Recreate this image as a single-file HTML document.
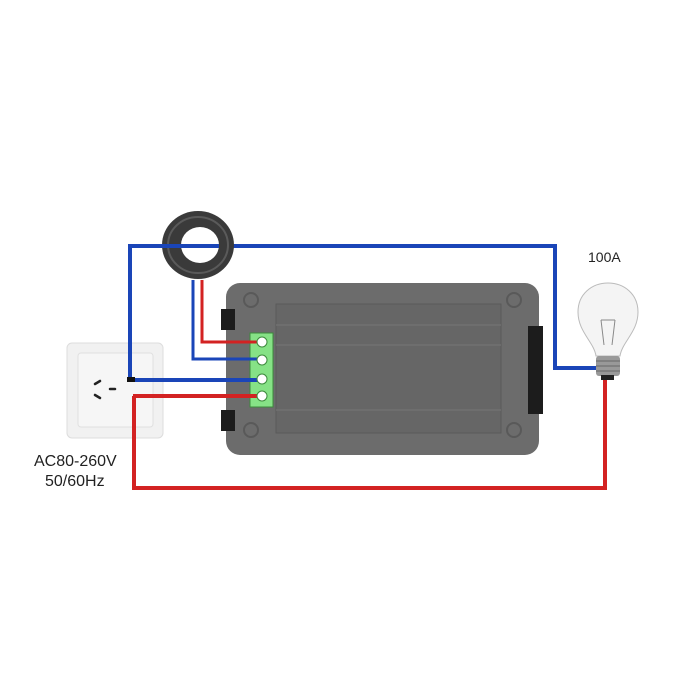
<!DOCTYPE html>
<html><head><style>body{margin:0;background:#fff}svg{display:block}</style></head>
<body>
<svg width="700" height="700" viewBox="0 0 700 700" xmlns="http://www.w3.org/2000/svg" font-family="Liberation Sans, sans-serif">
<rect width="700" height="700" fill="#fff"/>
<!-- socket -->
<rect x="67" y="343" width="96" height="95" rx="5" fill="#f1f1f1" stroke="#ddd"/>
<rect x="78" y="353" width="75" height="74" rx="3" fill="#f6f6f6" stroke="#e0e0e0"/>
<g stroke="#222" stroke-width="2.5" stroke-linecap="round">
<line x1="95" y1="384" x2="100" y2="381"/><line x1="95" y1="395" x2="100" y2="398"/><line x1="110" y1="389" x2="115" y2="389"/>
</g>
<!-- meter -->
<rect x="226" y="283" width="313" height="172" rx="14" fill="#6c6c6c"/>
<rect x="276" y="304" width="225" height="129" fill="#666" stroke="#5a5a5a"/>
<g stroke="#777" stroke-width="1"><line x1="276" y1="325" x2="501" y2="325"/><line x1="276" y1="345" x2="501" y2="345"/><line x1="276" y1="410" x2="501" y2="410"/></g>
<g fill="none" stroke="#595959" stroke-width="2"><circle cx="251" cy="300" r="7"/><circle cx="514" cy="300" r="7"/><circle cx="251" cy="430" r="7"/><circle cx="514" cy="430" r="7"/></g>
<rect x="221" y="309" width="14" height="21" fill="#1c1c1c"/>
<rect x="221" y="410" width="14" height="21" fill="#1c1c1c"/>
<rect x="528" y="326" width="15" height="88" fill="#1c1c1c"/>
<rect x="250" y="333" width="23" height="74" fill="#86e286" stroke="#3c8a3c"/>
<!-- wires -->
<g fill="none" stroke-width="4" stroke-linejoin="miter">
<polyline points="130,380 130,246 555,246 555,368 596,368" stroke="#1a45b8"/>
<polyline points="130,380 262,380" stroke="#1a45b8"/>
<polyline points="193,280 193,359 262,359" stroke="#1a45b8" stroke-width="3"/>
<polyline points="202,280 202,342 262,342" stroke="#d32222" stroke-width="3"/>
<polyline points="133,396 262,396" stroke="#d32222"/>
<polyline points="134,396 134,488 605,488 605,378" stroke="#d32222"/>
</g>
<rect x="127" y="377" width="8" height="5" fill="#111"/>
<g fill="#fff" stroke="#3c8a3c" stroke-width="1">
<circle cx="262" cy="342" r="5"/><circle cx="262" cy="360" r="5"/><circle cx="262" cy="379" r="5"/><circle cx="262" cy="396" r="5"/>
</g>
<!-- CT ring -->
<ellipse cx="198" cy="245" rx="36" ry="34" fill="#3a3a3a"/>
<ellipse cx="198" cy="245" rx="30" ry="28" fill="none" stroke="#5a5a5a" stroke-width="2"/>
<ellipse cx="200" cy="245" rx="19" ry="18" fill="#fff"/>
<line x1="162" y1="246" x2="219" y2="246" stroke="#1a45b8" stroke-width="4"/>
<!-- bulb -->
<path d="M596,356 C594,342 578,332 578,312 C578,294 592,283 608,283 C624,283 638,294 638,312 C638,332 622,342 620,356 Z" fill="#f4f4f4" stroke="#bbb"/>
<path d="M601,320 L604,345 M615,320 L612,345 M601,320 L615,320" stroke="#888" fill="none"/>
<rect x="596" y="356" width="24" height="20" rx="3" fill="#999"/>
<g stroke="#666"><line x1="596" y1="361" x2="620" y2="361"/><line x1="596" y1="366" x2="620" y2="366"/><line x1="596" y1="371" x2="620" y2="371"/></g>
<rect x="601" y="375" width="13" height="5" fill="#222"/>
<!-- text -->
<text x="588" y="262" font-size="14" fill="#222">100A</text>
<text x="34" y="466" font-size="16" fill="#222">AC80-260V</text>
<text x="45" y="486" font-size="16" fill="#222">50/60Hz</text>
</svg>
</body></html>
